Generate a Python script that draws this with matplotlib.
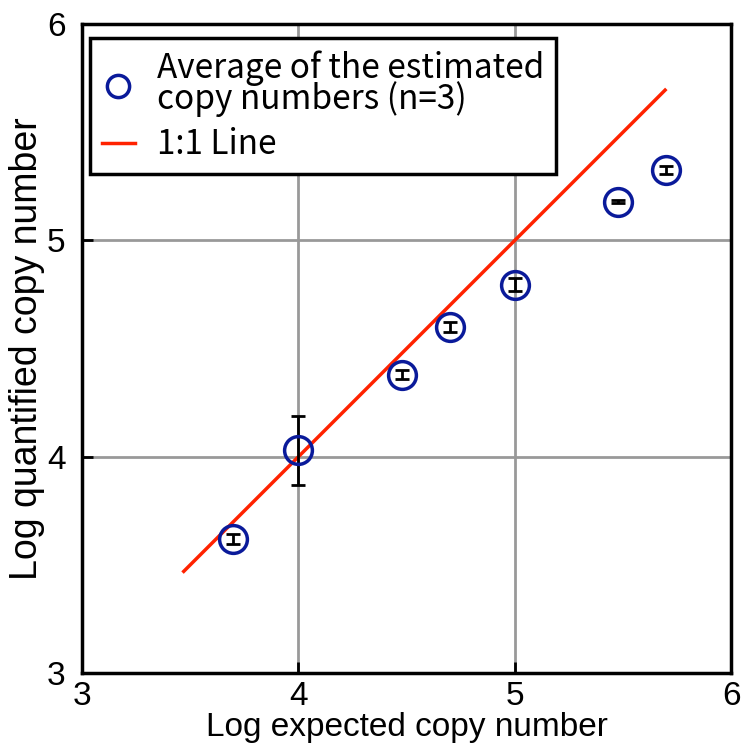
import numpy as np
import matplotlib.pyplot as plt

# Données
log_attendu = [3.699, 4.0, 4.477, 4.699, 5.0, 5.477, 5.699]
log_quantifie = [3.62, 4.03, 4.38, 4.60, 4.795, 5.18, 5.325]
erreur = [0.022, 0.16, 0.02, 0.025, 0.03, 0.008, 0.018]
ligne_x = [3.47, 5.695]
ticks = [3, 4, 5, 6]

plt.rcParams['font.family'] = ['Liberation Sans', 'DejaVu Sans']

fig = plt.figure(figsize=(7.46, 7.45), dpi=100)
ax = fig.add_axes([0.110, 0.0966, 0.870, 0.871])

ax.grid(True, color='#999999', linewidth=2.0)
ax.set_axisbelow(True)

ax.plot(ligne_x, ligne_x, color='#ff2200', linewidth=2.5, label='1:1 Line', zorder=2)

ax.errorbar(log_attendu, log_quantifie, yerr=erreur, fmt='none', ecolor='black',
            elinewidth=2.0, capsize=5, capthick=2.0, zorder=3)
ax.plot(log_attendu, log_quantifie, 'o', markersize=20, markerfacecolor='none',
        markeredgecolor='#0a1a9a', markeredgewidth=2.5, zorder=4,
        label='Average of the estimated\ncopy numbers (n=3)')

ax.set_xlim(3, 6)
ax.set_ylim(3, 6)
ax.set_xticks(ticks)
ax.set_yticks(ticks)
ax.tick_params(direction='in', length=8, width=2, labelsize=24)
ax.tick_params(axis='y', pad=12)
ax.tick_params(axis='x', pad=6)
for s in ax.spines.values():
    s.set_linewidth(2.5)

ax.set_xlabel('Log expected copy number', fontsize=24, labelpad=0)
ax.set_ylabel('Log quantified copy number', fontsize=27, labelpad=1)

h, l = ax.get_legend_handles_labels()
leg = ax.legend(h[::-1], l[::-1], loc='upper left', bbox_to_anchor=(0.012, 0.978),
                prop={'family': ['Noto Sans CJK JP', 'DejaVu Sans'], 'size': 24},
                fancybox=False, edgecolor='black', framealpha=1, borderpad=0.35,
                borderaxespad=0, handlelength=1.0, handletextpad=0.65,
                labelspacing=0.3, markerscale=0.8)
leg.get_frame().set_linewidth(2.5)
for t in leg.get_texts():
    t.set_linespacing(0.85)

plt.savefig('out.png', dpi=100)
